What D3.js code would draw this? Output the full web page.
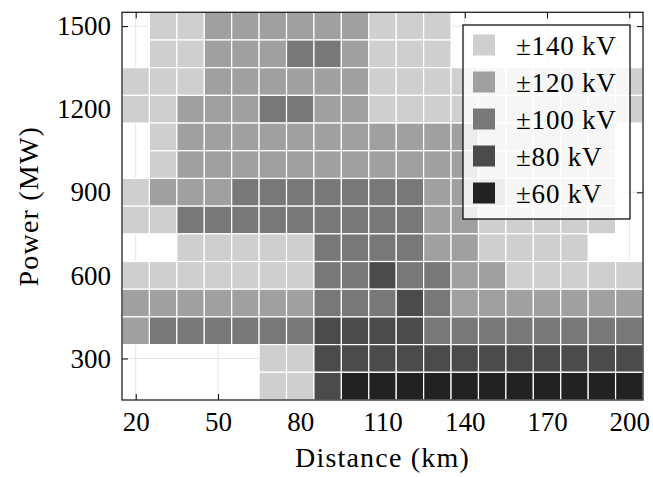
<!DOCTYPE html>
<html><head><meta charset="utf-8">
<script src="https://cdn.jsdelivr.net/npm/d3@7"></script>
<style>
body{margin:0;background:#fff}
svg{display:block}
</style>
</head><body>
<svg id="chart" width="653" height="477"></svg>
<script>
// ---- data ----
const distances = [20,30,40,50,60,70,80,90,100,110,120,130,140,150,160,170,180,190,200];
const powers = [1500,1400,1300,1200,1100,1000,900,800,700,600,500,400,300,200];
const N = null;
// rows follow `powers` (top to bottom), columns follow `distances`; value = voltage level in kV
const voltageGrid = [
  [N,140,140,120,120,120,120,120,120,140,140,140,N,N,N,N,N,N,N],
  [N,140,140,120,120,120,100,100,120,140,140,140,N,N,N,N,N,N,N],
  [140,140,140,120,120,120,120,120,120,140,140,140,140,140,140,140,140,140,140],
  [140,140,120,120,120,100,100,120,120,140,140,140,140,140,140,140,140,140,140],
  [N,140,120,120,120,120,120,120,120,120,120,120,120,140,140,140,140,140,N],
  [N,140,120,120,120,120,120,120,120,120,120,120,120,140,140,140,140,140,N],
  [140,120,120,120,100,100,100,100,100,100,100,120,120,120,140,140,140,140,N],
  [140,140,100,100,100,100,100,100,100,100,100,120,120,140,140,140,140,140,N],
  [N,N,140,140,140,140,140,100,100,100,100,120,120,140,140,140,140,N,N],
  [140,140,140,140,140,140,140,100,100,80,100,100,120,120,140,140,140,140,140],
  [120,120,120,120,120,120,120,100,100,100,80,100,120,120,120,120,120,120,120],
  [120,100,100,100,100,100,100,80,80,80,80,100,100,100,100,100,100,100,100],
  [N,N,N,N,N,140,140,80,80,80,80,80,80,80,80,80,80,80,80],
  [N,N,N,N,N,140,140,80,60,60,60,60,60,60,60,60,60,60,60]
];
const levels = [140,120,100,80,60];
const levelColors = ["#cfcfcf","#a0a0a0","#787878","#4b4b4b","#222222"];
const legendLabels = ["±140 kV","±120 kV","±100 kV","±80 kV","±60 kV"];
const xTicks = [20,50,80,110,140,170,200];
const yTicks = [300,600,900,1200,1500];
const xLabel = "Distance (km)";
const yLabel = "Power (MW)";

// ---- layout ----
const FONT = "'Liberation Serif','DejaVu Serif',serif";
const L = 122, R = 643, T = 12.3, B = 400;
const stepX = 10, stepY = 100;
const svg = d3.select("#chart");
const x = d3.scaleLinear().domain([distances[0]-stepX/2, distances[distances.length-1]+stepX/2]).range([L, R]);
const y = d3.scaleLinear().domain([powers[powers.length-1]-stepY/2, powers[0]+stepY/2]).range([B, T]);
const color = d3.scaleOrdinal().domain(levels).range(levelColors);
const fmt = d3.format("d");

// grid
const grid = svg.append("g");
grid.selectAll("line.gx").data(xTicks).join("line")
  .attr("x1", d=>x(d)).attr("x2", d=>x(d)).attr("y1", T).attr("y2", B)
  .attr("stroke", "#e4e4e4").attr("stroke-width", 1);
grid.selectAll("line.gy").data(yTicks).join("line")
  .attr("y1", d=>y(d)).attr("y2", d=>y(d)).attr("x1", L).attr("x2", R)
  .attr("stroke", "#e4e4e4").attr("stroke-width", 1);

// axes (inward ticks)
function styleAxis(g){
  g.select(".domain").remove();
  g.selectAll(".tick line").attr("stroke", "#000").attr("stroke-width", 1);
  g.selectAll("text").attr("font-family", FONT).attr("font-size", 27).attr("fill", "#000");
}
svg.append("g").attr("transform", `translate(0,${B})`)
  .call(d3.axisBottom(x).tickValues(xTicks).tickFormat(fmt).tickSize(-6).tickPadding(12)).call(styleAxis);
svg.append("g").attr("transform", `translate(0,${T})`)
  .call(d3.axisTop(x).tickValues(xTicks).tickSize(-6).tickFormat("")).call(styleAxis);
svg.append("g").attr("transform", `translate(${L},0)`)
  .call(d3.axisLeft(y).tickValues(yTicks).tickFormat(fmt).tickSize(-6).tickPadding(11)).call(styleAxis);
svg.append("g").attr("transform", `translate(${R},0)`)
  .call(d3.axisRight(y).tickValues(yTicks).tickSize(-6).tickFormat("")).call(styleAxis);

// cells
const cells = [];
powers.forEach((p, r) => distances.forEach((d, c) => {
  const v = voltageGrid[r][c];
  if (v !== null) cells.push({d, p, v});
}));
svg.append("g").selectAll("rect").data(cells).join("rect")
  .attr("x", c => x(c.d - stepX/2))
  .attr("y", c => y(c.p + stepY/2))
  .attr("width", c => x(c.d + stepX/2) - x(c.d - stepX/2))
  .attr("height", c => y(c.p - stepY/2) - y(c.p + stepY/2))
  .attr("fill", c => color(c.v))
  .attr("stroke", "#fff").attr("stroke-width", 1.2);

// frame
svg.append("rect").attr("x", L).attr("y", T).attr("width", R-L).attr("height", B-T)
  .attr("fill", "none").attr("stroke", "#222").attr("stroke-width", 1.3);

// axis labels
svg.append("text").attr("x", (L+R)/2).attr("y", 467).attr("text-anchor", "middle")
  .attr("font-family", FONT).attr("font-size", 28).attr("letter-spacing", 1.2).text(xLabel);
svg.append("text").attr("transform", `translate(38,${(T+B)/2}) rotate(-90)`).attr("text-anchor", "middle")
  .attr("font-family", FONT).attr("font-size", 28).attr("letter-spacing", 1.2).text(yLabel);

// legend
const lg = svg.append("g");
lg.append("rect").attr("x", 463).attr("y", 25).attr("width", 167).attr("height", 194)
  .attr("fill", "#fff").attr("fill-opacity", 0.8).attr("stroke", "#000").attr("stroke-width", 1.2);
const items = lg.selectAll("g.item").data(levels).join("g").attr("class", "item")
  .attr("transform", (d, i) => `translate(0,${45 + i*37})`);
items.append("rect").attr("x", 473).attr("y", -10.5).attr("width", 22).attr("height", 21)
  .attr("fill", d => color(d));
items.append("text").attr("x", 516).attr("y", 9.5)
  .attr("font-family", FONT).attr("font-size", 27).attr("letter-spacing", 0.8)
  .text((d, i) => legendLabels[i]);
</script>
</body></html>
